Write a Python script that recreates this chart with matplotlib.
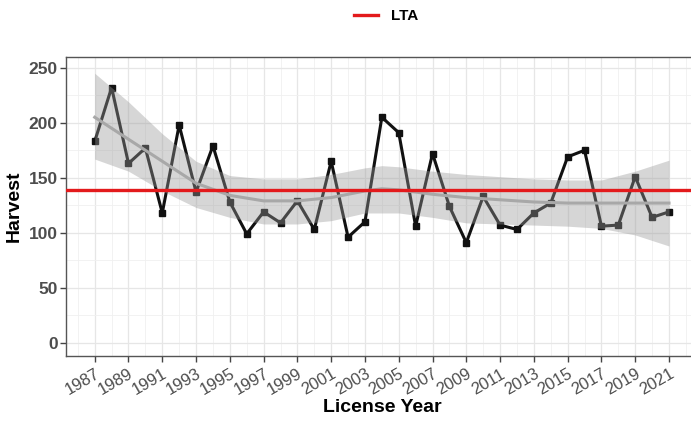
import matplotlib.pyplot as plt
from matplotlib.ticker import MultipleLocator

plt.rcParams['font.family'] = ['Liberation Sans', 'DejaVu Sans']

years = list(range(1987, 2022))
harvest = [183, 232, 163, 177, 118, 198, 137, 179, 128, 99,
           119, 109, 129, 103, 165, 96, 110, 205, 191, 106,
           172, 124, 91, 133, 107, 103, 118, 127, 169, 175,
           106, 107, 151, 114, 119]
lta = 139

# loess trend and its confidence band
smooth_years = [1987, 1989, 1991, 1993, 1995, 1997, 1999, 2001, 2003, 2004,
                2005, 2007, 2009, 2011, 2013, 2015, 2017, 2019, 2021]
smooth_fit = [205, 185, 165, 145, 134, 129, 129, 132, 138, 140,
              139, 135, 132, 130, 128, 127, 127, 127, 127]
smooth_lo = [167, 156, 138, 123, 114, 108, 108, 111, 118, 118,
             118, 114, 109, 108, 107, 106, 104, 98, 88]
smooth_hi = [245, 219, 190, 165, 152, 149, 149, 153, 159, 161,
             160, 156, 153, 151, 149, 148, 148, 156, 166]

fig = plt.figure(figsize=(6.91, 4.21), dpi=100)
ax = fig.add_axes([66 / 691, 1 - 356 / 421, (697.7 - 66) / 691, (356 - 57.3) / 421])

ax.plot(years, harvest, color='#111111', lw=2.2, marker='s', ms=5, zorder=2)
ax.fill_between(smooth_years, smooth_lo, smooth_hi, color='#999999', alpha=0.4,
                lw=0, zorder=3)
ax.plot(smooth_years, smooth_fit, color='#a8a8a8', lw=2.2, zorder=4)
ax.axhline(lta, color='#e31a1c', lw=2.4, zorder=5, label='LTA')

ax.set_xlim(1985.3, 2022.7)
ax.set_ylim(-12, 259.5)
ax.set_xticks(years[::2])
ax.xaxis.set_minor_locator(MultipleLocator(1))
ax.yaxis.set_major_locator(MultipleLocator(50))
ax.yaxis.set_minor_locator(MultipleLocator(25))
ax.grid(which='major', color='#e6e6e6', lw=0.9)
ax.grid(which='minor', color='#f0f0f0', lw=0.6)
ax.set_axisbelow(True)
ax.tick_params(which='minor', length=0)
ax.tick_params(which='major', length=4, width=1, color='#444444',
               labelcolor='#4d4d4d', labelsize=12)
ax.tick_params(axis='y', labelsize=12.5, pad=2)
for lab in ax.get_yticklabels():
    lab.set_fontweight('bold')
plt.setp(ax.get_xticklabels(), rotation=30, ha='right', rotation_mode='anchor')
for s in ax.spines.values():
    s.set_color('#555555')
    s.set_linewidth(1)

ax.set_xlabel('License Year', fontsize=14, fontweight='bold', labelpad=1)
ax.set_ylabel('Harvest', fontsize=14, fontweight='bold', labelpad=4)

fig.legend(loc='center', bbox_to_anchor=(386 / 691, 1 - 16 / 421), frameon=False,
           prop={'weight': 'bold', 'size': 11}, handlelength=1.6)

fig.savefig('out.png', dpi=100)
